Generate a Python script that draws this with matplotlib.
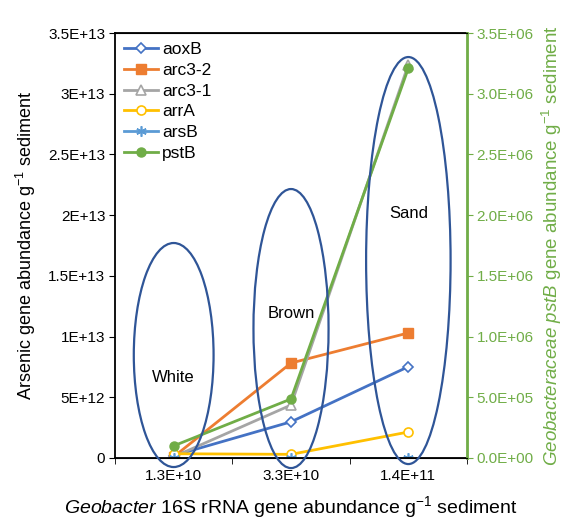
import matplotlib
matplotlib.use("Agg")
import matplotlib.pyplot as plt
from matplotlib.patches import Ellipse

plt.rcParams['font.family'] = ['Liberation Sans', 'DejaVu Sans']
plt.rcParams['mathtext.fontset'] = 'custom'
plt.rcParams['mathtext.rm'] = 'Liberation Sans'
plt.rcParams['mathtext.it'] = 'Liberation Sans:italic'

# Data
categories = ["1.3E+10", "3.3E+10", "1.4E+11"]
aoxB = [2.0e11, 2.98e12, 7.52e12]
arc3_2 = [1.0e11, 7.82e12, 1.03e13]
arc3_1 = [1.0e11, 4.36e12, 3.24e13]
arrA = [3.5e11, 3.0e11, 2.14e12]
arsB = [0.0, 0.0, 0.0]
pstB = [1.0e5, 4.86e5, 3.21e6]   # secondary axis

left_ticks = [0, 5e12, 1e13, 1.5e13, 2e13, 2.5e13, 3e13, 3.5e13]
left_labels = ["0", "5E+12", "1E+13", "1.5E+13", "2E+13", "2.5E+13", "3E+13", "3.5E+13"]
right_ticks = [0, 5e5, 1e6, 1.5e6, 2e6, 2.5e6, 3e6, 3.5e6]
right_labels = ["0.0E+00", "5.0E+05", "1.0E+06", "1.5E+06", "2.0E+06", "2.5E+06", "3.0E+06", "3.5E+06"]

# sediment groups: label, centre y, width, height, text y
groups = ["White", "Brown", "Sand"]
ell_y = [8.48e12, 1.066e13, 1.626e13]
ell_w = [0.68, 0.64, 0.72]
ell_h = [1.845e13, 2.298e13, 3.352e13]
text_y = [6.67e12, 1.19e13, 2.01e13]

GREEN = '#70AD47'
NAVY = '#2F5597'

fig = plt.figure(figsize=(5.63, 5.23), dpi=100)
ax = fig.add_axes([0.2043, 0.1243, 0.6252, 0.8126])
ax2 = ax.twinx()

x = range(len(categories))
lw = 2.0
ms = 6.5
h1, = ax.plot(x, aoxB, color='#4472C4', lw=lw, marker='D', ms=5.5, mfc='white', mew=1.2, label='aoxB')
h2, = ax.plot(x, arc3_2, color='#ED7D31', lw=lw, marker='s', ms=ms, label='arc3-2')
h3, = ax.plot(x, arc3_1, color='#A5A5A5', lw=lw, marker='^', ms=ms + 1, mfc='white', mew=1.2, label='arc3-1')
h4, = ax.plot(x, arrA, color='#FFC000', lw=lw, marker='o', ms=ms, mfc='white', mew=1.2, label='arrA')
h5, = ax.plot(x, arsB, color='#5B9BD5', lw=lw, marker=(6, 2, 0), ms=ms + 1, mew=1.2, label='arsB')
h6, = ax2.plot(x, pstB, color=GREEN, lw=lw, marker='o', ms=ms, label='pstB')

ax.set_xlim(-0.5, 2.5)
ax.set_ylim(0, 3.5e13)
ax2.set_ylim(0, 3.5e6)

ax.set_xticks(list(x))
ax.set_xticklabels(categories, fontsize=11)
ax.set_xticks([-0.5, 0.5, 1.5, 2.5], minor=True)
ax.tick_params(axis='x', which='major', length=0, pad=8)
ax.tick_params(axis='x', which='minor', length=4, direction='out')

ax.set_yticks(left_ticks)
ax.set_yticklabels(left_labels, fontsize=11)
ax.tick_params(axis='y', length=4, direction='out', pad=3)

ax2.set_yticks(right_ticks)
ax2.set_yticklabels(right_labels, fontsize=11, color=GREEN)
ax2.tick_params(axis='y', length=4, direction='out', color=GREEN, pad=3)
ax2.spines['right'].set_color(GREEN)
ax2.spines['right'].set_linewidth(2)
for s in ['left', 'bottom', 'top']:
    ax.spines[s].set_linewidth(1.3)
ax2.spines['left'].set_visible(False)

for g, cx, cy, w, h, ty in zip(groups, x, ell_y, ell_w, ell_h, text_y):
    e = Ellipse((cx, cy), w, h, fill=False, edgecolor=NAVY, lw=1.6,
                transform=ax.transData, clip_on=False, zorder=5)
    ax2.add_patch(e)
    ax2.text(cx, ty, g, transform=ax.transData, ha='center', va='center', fontsize=12)

ax.set_ylabel(r"Arsenic gene abundance g$^{-1}$ sediment", fontsize=13, labelpad=7)
ax.set_xlabel(r"$\it{Geobacter}$ 16S rRNA gene abundance g$^{-1}$ sediment", fontsize=14, labelpad=8)
ax2.set_ylabel(r"$\it{Geobacteraceae\ pstB}$ gene abundance g$^{-1}$ sediment",
               fontsize=13.5, color=GREEN, labelpad=4)

ax2.legend(handles=[h1, h2, h3, h4, h5, h6], loc='upper left', frameon=False,
           fontsize=12.5, handlelength=2.0, labelspacing=0.33, borderaxespad=0.2,
           handletextpad=0.2, borderpad=0.3)

fig.savefig("out.png", dpi=100)
